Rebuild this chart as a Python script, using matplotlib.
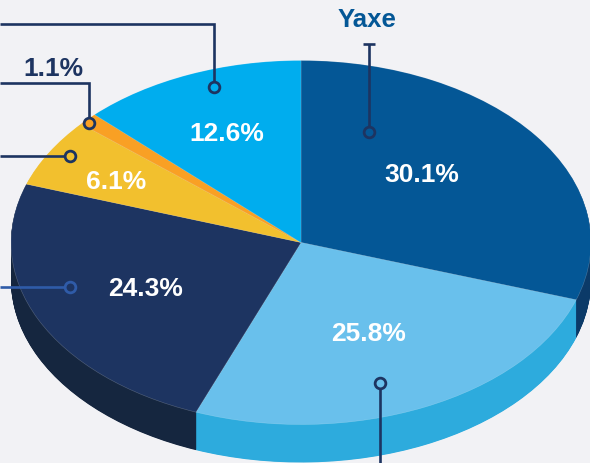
import matplotlib
matplotlib.use("Agg")
import matplotlib.pyplot as plt
import numpy as np

categories = ["Yaxe"]
values = [30.1, 25.8, 24.3, 6.1, 1.1, 12.6]
labels = ["30.1%", "25.8%", "24.3%", "6.1%", "1.1%", "12.6%"]
top_colors = ["#045796", "#69C0EC", "#1D3461", "#F2C02E", "#F9A024", "#00ADEE"]
side_colors = ["#0B3A68", "#2DABDD", "#15263F", "#C99A1E", "#C97F18", "#008CC0"]

W, H = 590, 464
BG = "#F2F2F5"
NAVY = "#1D3461"
CX, CY, RX, RY, DEPTH = 301, 243.5, 290, 182, 38
FONT = "Liberation Sans"

fig = plt.figure(figsize=(W / 100, H / 100), dpi=100, facecolor=BG)
ax = fig.add_axes([0, 0, 1, 1])

for dz in np.arange(DEPTH, 0, -0.5):
    ax.pie(values, colors=side_colors, startangle=90, counterclock=False,
           center=(0, -dz / RY), radius=1, normalize=True)
ax.pie(values, colors=top_colors, startangle=90, counterclock=False,
       center=(0, 0), radius=1, normalize=True,
       wedgeprops=dict(edgecolor="#FFFFFF40", linewidth=0.4))
ax.set_aspect("auto")
ax.set_xlim(-CX / RX, (W - CX) / RX)
ax.set_ylim((CY - H) / RY, CY / RY)
ax.axis("off")

ov = fig.add_axes([0, 0, 1, 1])
ov.set_xlim(0, W)
ov.set_ylim(H, 0)
ov.axis("off")
ov.patch.set_alpha(0)

def leader(xs, ys, fill, color=NAVY):
    ov.plot(xs, ys, color=color, lw=1.9, solid_capstyle="butt",
            solid_joinstyle="miter", zorder=3)
    ov.plot(xs[-1], ys[-1], "o", ms=7.7, mfc=fill, mec=color, mew=2.0, zorder=4)

leader([368.7, 368.7], [45, 132.5], top_colors[0])
ov.plot([363, 375], [45, 45], color=NAVY, lw=1.9, solid_capstyle="butt")
leader([380.3, 380.3], [464, 383.7], top_colors[1])
leader([0, 70], [287.5, 287.5], top_colors[2], color="#2F5BA8")
leader([0, 70], [157, 157], top_colors[3])
leader([0, 89, 89], [83.7, 83.7, 123.7], top_colors[4])
leader([0, 214, 214], [24.5, 24.5, 87.7], top_colors[5])

label_pos = [(421.7, 175), (368.3, 334), (146, 289), (116, 182), (53, 69), (226.7, 134.5)]
for i, (txt, (x, y)) in enumerate(zip(labels, label_pos)):
    ov.text(x, y, txt, color=NAVY if i == 4 else "white", fontsize=19,
            fontweight="bold", family=FONT, ha="center", va="center")
ov.text(366.7, 20, categories[0], color="#045796", fontsize=18.5, fontweight="bold",
        family=FONT, ha="center", va="center")

fig.savefig("out.png", dpi=100, facecolor=BG)
